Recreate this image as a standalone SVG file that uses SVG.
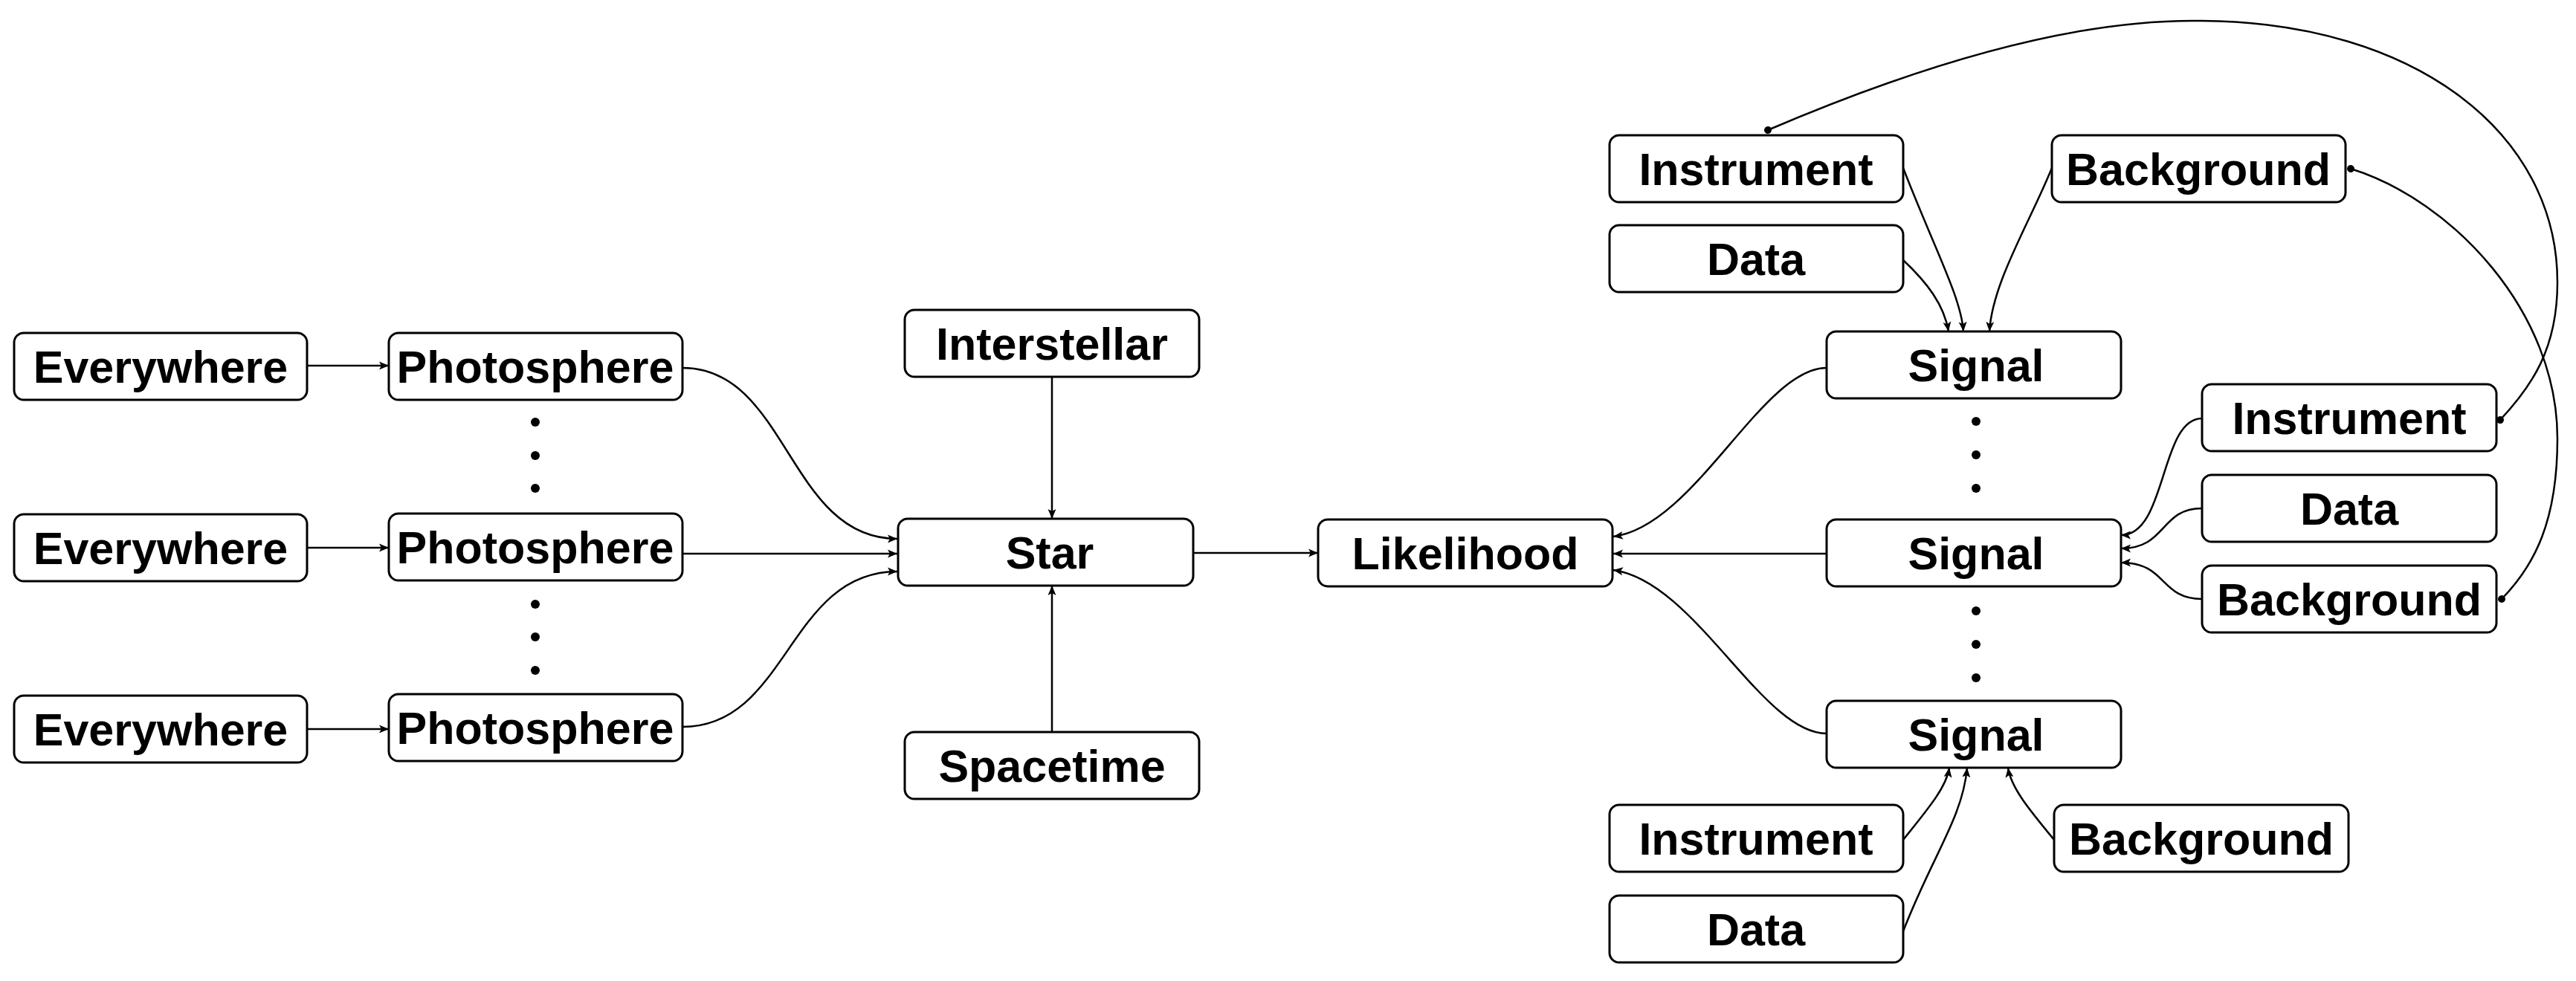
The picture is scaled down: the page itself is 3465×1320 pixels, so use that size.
<svg xmlns="http://www.w3.org/2000/svg" width="3465" height="1320" viewBox="0 0 3465 1320">
<defs>
<style>
.box{fill:#fff;stroke:#000;stroke-width:3}
.lbl{font-family:"Liberation Sans",Arial,Helvetica,sans-serif;font-weight:bold;font-size:61px;fill:#000;text-anchor:middle}
.edge{fill:none;stroke:#000;stroke-width:2.5}
.arr{marker-end:url(#ah)}
.dots{marker-start:url(#dot);marker-end:url(#dot)}
</style>
<marker id="ah" markerUnits="userSpaceOnUse" markerWidth="14" markerHeight="12" refX="13" refY="6" orient="auto">
<path d="M0,0.5 L13,6 L0,11.5 L3,6 Z" fill="#000"/>
</marker>
<marker id="dot" markerUnits="userSpaceOnUse" markerWidth="12" markerHeight="12" refX="6" refY="6" orient="auto">
<circle cx="6" cy="6" r="5" fill="#000"/>
</marker>
</defs>
<rect width="3465" height="1320" fill="#fff"/>

<g id="connectors">
<path class="edge arr" d="M413,492 L523,492"/>
<path class="edge arr" d="M413,737 L523,737"/>
<path class="edge arr" d="M413,981 L523,981"/>
<path class="edge arr" d="M918,495 C1060,495 1060,725 1207,725"/>
<path class="edge arr" d="M918,745 L1207,745"/>
<path class="edge arr" d="M918,978 C1060,978 1060,769 1207,769"/>
<path class="edge arr" d="M1415,507 L1415,698"/>
<path class="edge arr" d="M1415,985 L1415,788"/>
<path class="edge arr" d="M1605,744 L1773,744"/>
<path class="edge arr" d="M2457,495 C2370,495 2280,708 2170,722"/>
<path class="edge arr" d="M2457,745 L2170,745"/>
<path class="edge arr" d="M2457,987 C2370,987 2280,782 2170,767"/>
<path class="edge arr" d="M2560,226 C2600,330 2638,400 2641,446"/>
<path class="edge arr" d="M2560,350 C2592,380 2615,410 2621,446"/>
<path class="edge arr" d="M2760,226 C2730,300 2680,380 2676,446"/>
<path class="edge arr" d="M2962,563 C2905,563 2915,720 2853,720"/>
<path class="edge arr" d="M2962,684 C2905,684 2915,738 2853,738"/>
<path class="edge arr" d="M2962,806 C2905,806 2915,757 2853,757"/>
<path class="edge arr" d="M2560,1130 C2592,1090 2618,1060 2622,1033"/>
<path class="edge arr" d="M2560,1253 C2600,1150 2640,1100 2646,1033"/>
<path class="edge arr" d="M2763,1130 C2730,1090 2705,1060 2701,1033"/>
<path class="edge dots" d="M2378,175 C2600,80 2800,25 2962,28 C3250,30 3440,180 3440,380 C3440,470 3405,520 3363,565"/>
<path class="edge dots" d="M3162,227 C3300,270 3440,420 3440,590 C3440,700 3410,760 3365,806"/>
</g>

<g id="ellipsis" fill="#000">
<circle cx="720" cy="568" r="6"/><circle cx="720" cy="613" r="6"/><circle cx="720" cy="657" r="6"/>
<circle cx="720" cy="813" r="6"/><circle cx="720" cy="857" r="6"/><circle cx="720" cy="902" r="6"/>
<circle cx="2658" cy="567" r="6"/><circle cx="2658" cy="612" r="6"/><circle cx="2658" cy="657" r="6"/>
<circle cx="2658" cy="822" r="6"/><circle cx="2658" cy="867" r="6"/><circle cx="2658" cy="912" r="6"/>
</g>

<g id="everywhere1"><rect class="box" x="19" y="448" width="394" height="90" rx="13"/><text class="lbl" x="216" y="515">Everywhere</text></g>
<g id="everywhere2"><rect class="box" x="19" y="692" width="394" height="90" rx="13"/><text class="lbl" x="216" y="759">Everywhere</text></g>
<g id="everywhere3"><rect class="box" x="19" y="936" width="394" height="90" rx="13"/><text class="lbl" x="216" y="1003">Everywhere</text></g>
<g id="photosphere1"><rect class="box" x="523" y="448" width="395" height="90" rx="13"/><text class="lbl" x="720" y="515">Photosphere</text></g>
<g id="photosphere2"><rect class="box" x="523" y="691" width="395" height="90" rx="13"/><text class="lbl" x="720" y="758">Photosphere</text></g>
<g id="photosphere3"><rect class="box" x="523" y="934" width="395" height="90" rx="13"/><text class="lbl" x="720" y="1001">Photosphere</text></g>
<g id="interstellar"><rect class="box" x="1217" y="417" width="396" height="90" rx="13"/><text class="lbl" x="1415" y="484">Interstellar</text></g>
<g id="star"><rect class="box" x="1208" y="698" width="397" height="90" rx="13"/><text class="lbl" x="1412" y="765">Star</text></g>
<g id="spacetime"><rect class="box" x="1217" y="985" width="396" height="90" rx="13"/><text class="lbl" x="1415" y="1052">Spacetime</text></g>
<g id="likelihood"><rect class="box" x="1773" y="699" width="396" height="90" rx="13"/><text class="lbl" x="1971" y="766">Likelihood</text></g>
<g id="instrument_top"><rect class="box" x="2165" y="182" width="395" height="90" rx="13"/><text class="lbl" x="2362" y="249">Instrument</text></g>
<g id="data_top"><rect class="box" x="2165" y="303" width="395" height="90" rx="13"/><text class="lbl" x="2362" y="370">Data</text></g>
<g id="background_top"><rect class="box" x="2760" y="182" width="395" height="90" rx="13"/><text class="lbl" x="2957" y="249">Background</text></g>
<g id="signal_top"><rect class="box" x="2457" y="446" width="396" height="90" rx="13"/><text class="lbl" x="2658" y="513">Signal</text></g>
<g id="signal_mid"><rect class="box" x="2457" y="699" width="396" height="90" rx="13"/><text class="lbl" x="2658" y="766">Signal</text></g>
<g id="signal_bottom"><rect class="box" x="2457" y="943" width="396" height="90" rx="13"/><text class="lbl" x="2658" y="1010">Signal</text></g>
<g id="instrument_mid"><rect class="box" x="2962" y="517" width="396" height="90" rx="13"/><text class="lbl" x="3160" y="584">Instrument</text></g>
<g id="data_mid"><rect class="box" x="2962" y="639" width="396" height="90" rx="13"/><text class="lbl" x="3160" y="706">Data</text></g>
<g id="background_mid"><rect class="box" x="2962" y="761" width="396" height="90" rx="13"/><text class="lbl" x="3160" y="828">Background</text></g>
<g id="instrument_bottom"><rect class="box" x="2165" y="1083" width="395" height="90" rx="13"/><text class="lbl" x="2362" y="1150">Instrument</text></g>
<g id="data_bottom"><rect class="box" x="2165" y="1205" width="395" height="90" rx="13"/><text class="lbl" x="2362" y="1272">Data</text></g>
<g id="background_bottom"><rect class="box" x="2763" y="1083" width="396" height="90" rx="13"/><text class="lbl" x="2961" y="1150">Background</text></g>
</svg>
